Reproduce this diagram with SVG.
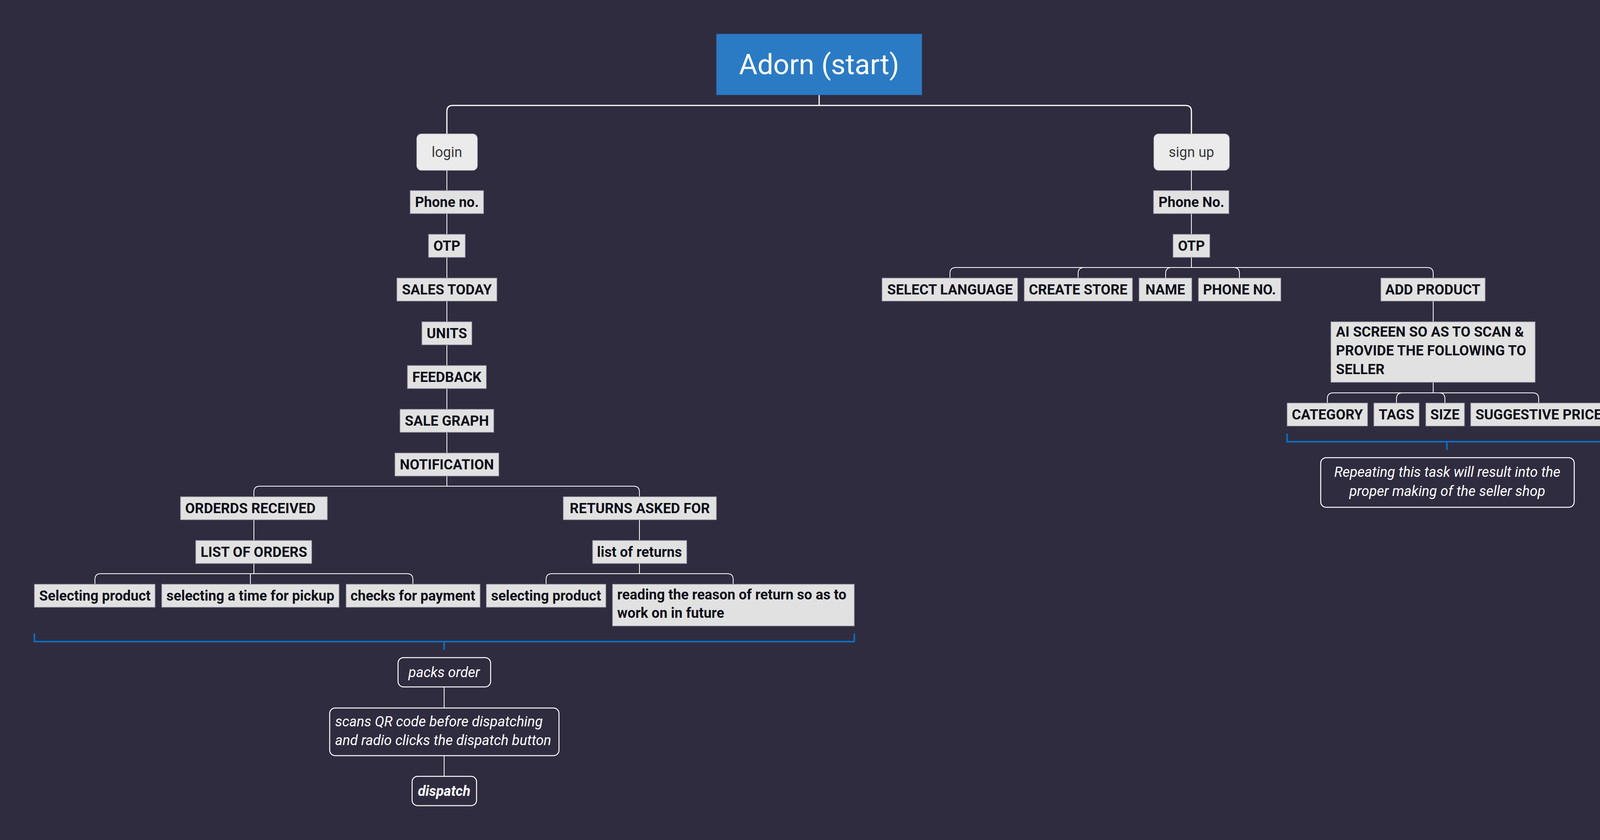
<svg xmlns="http://www.w3.org/2000/svg" width="4201" height="2151" viewBox="0 0 4201 2151">
<style>
.bg{fill:#2f2c3f}
.box{fill:#e1e1e1;stroke:#8f8da2;stroke-width:1.5}
.pill{fill:#ebebeb;stroke:#c8c8cc;stroke-width:1.5}
.out{fill:none;stroke:#ffffff;stroke-width:2.5}
.t{font-family:Roboto,'Liberation Sans',sans-serif;font-size:36px;font-weight:700;fill:#0e101a}
.c{text-anchor:middle}
.p{font-family:Roboto,'Liberation Sans',sans-serif;font-size:36px;fill:#383838;text-anchor:middle}
.i{font-family:Roboto,'Liberation Sans',sans-serif;font-size:36px;font-style:italic;fill:#ffffff}
.ln{fill:none;stroke:#ffffff;stroke-width:2}
.lt{fill:none;stroke:#ffffff;stroke-width:3}
.bl{fill:none;stroke:#0a6fc4;stroke-width:4}
</style>
<rect class="bg" x="0" y="0" width="4201" height="2151"/>
<g id="connectors">
<path class="lt" d="M2097 243 V270"/>
<path class="lt" d="M1144 343 V285 Q1144 270 1159 270 H3035 Q3050 270 3050 285 V343"/>
<path class="ln" d="M1144 436 V1160"/>
<path class="ln" d="M1144 1219 V1245"/>
<path class="ln" d="M650 1271 V1260 Q650 1245 665 1245 H1622 Q1637 1245 1637 1260 V1271"/>
<path class="ln" d="M650 1331 V1383"/>
<path class="ln" d="M650 1443 V1469"/>
<path class="ln" d="M243 1495 V1484 Q243 1469 258 1469 H1042 Q1057 1469 1057 1484 V1495"/>
<path class="ln" d="M641 1469 V1495"/>
<path class="ln" d="M1637 1331 V1383"/>
<path class="ln" d="M1637 1443 V1469"/>
<path class="ln" d="M1398 1495 V1484 Q1398 1469 1413 1469 H1862 Q1877 1469 1877 1484 V1495"/>
<path class="bl" d="M88 1622 V1643 H2187 V1622"/>
<path class="bl" d="M1137 1643 V1664"/>
<path class="ln" d="M1137 1759 V1813"/>
<path class="ln" d="M1137 1935 V1988"/>
<path class="ln" d="M3050 436 V685"/>
<path class="ln" d="M2432 712 V700 Q2432 685 2447 685 H3654 Q3669 685 3669 700 V712"/>
<path class="ln" d="M2760 712 V700 Q2760 685 2775 685"/>
<path class="ln" d="M2984 712 V700 Q2984 685 2999 685"/>
<path class="ln" d="M3173 712 V700 Q3173 685 3158 685"/>
<path class="ln" d="M3669 771 V824"/>
<path class="ln" d="M3669 979 V1006"/>
<path class="ln" d="M3398 1032 V1021 Q3398 1006 3413 1006 H3924 Q3939 1006 3939 1021 V1032"/>
<path class="ln" d="M3575 1032 V1021 Q3575 1006 3590 1006"/>
<path class="ln" d="M3699 1032 V1021 Q3699 1006 3684 1006"/>
<path class="bl" d="M3295 1110 V1131 H4114 V1110"/>
<path class="bl" d="M3704 1131 V1152"/>
</g>
<g id="title"><rect x="1834" y="87" width="526" height="156" fill="#2b7bc4" stroke="#2a5d9e" stroke-width="1"/><text x="2097" y="190" font-family="Roboto,'Liberation Sans',sans-serif" font-size="72" fill="#ffffff" text-anchor="middle">Adorn (start)</text></g>
<g id="login"><rect class="pill" x="1067" y="343" width="155" height="93" rx="12"/><text class="p" x="1144" y="402">login</text></g>
<g id="signup"><rect class="pill" x="2954" y="343" width="193" height="93" rx="12"/><text class="p" x="3050" y="402">sign up</text></g>
<g id="l-phone"><rect class="box" x="1050" y="488" width="188" height="59"/><text class="t c" x="1144" y="530">Phone no.</text></g>
<g id="l-otp"><rect class="box" x="1097" y="600" width="94" height="59"/><text class="t c" x="1144" y="642">OTP</text></g>
<g id="l-sales"><rect class="box" x="1016" y="712" width="256" height="59"/><text class="t c" x="1144" y="754">SALES TODAY</text></g>
<g id="l-units"><rect class="box" x="1080" y="824" width="128" height="59"/><text class="t c" x="1144" y="866">UNITS</text></g>
<g id="l-feedback"><rect class="box" x="1043" y="936" width="202" height="59"/><text class="t c" x="1144" y="978">FEEDBACK</text></g>
<g id="l-graph"><rect class="box" x="1024" y="1048" width="240" height="59"/><text class="t c" x="1144" y="1090">SALE GRAPH</text></g>
<g id="l-notif"><rect class="box" x="1011" y="1160" width="266" height="59"/><text class="t c" x="1144" y="1202">NOTIFICATION</text></g>
<g id="orders"><rect class="box" x="462" y="1272" width="376" height="59"/><text class="t c" x="641" y="1314">ORDERDS RECEIVED</text></g>
<g id="list-orders"><rect class="box" x="501" y="1384" width="297" height="59"/><text class="t c" x="650" y="1426">LIST OF ORDERS</text></g>
<g id="sel-product"><rect class="box" x="88" y="1496" width="309" height="59"/><text class="t c" x="243" y="1538">Selecting product</text></g>
<g id="sel-time"><rect class="box" x="414" y="1496" width="454" height="59"/><text class="t c" x="641" y="1538">selecting a time for pickup</text></g>
<g id="payment"><rect class="box" x="886" y="1496" width="343" height="59"/><text class="t c" x="1057" y="1538">checks for payment</text></g>
<g id="returns"><rect class="box" x="1442" y="1272" width="392" height="59"/><text class="t c" x="1638" y="1314">RETURNS ASKED FOR</text></g>
<g id="list-returns"><rect class="box" x="1517" y="1384" width="241" height="59"/><text class="t c" x="1637" y="1426">list of returns</text></g>
<g id="ret-product"><rect class="box" x="1245" y="1496" width="306" height="59"/><text class="t c" x="1398" y="1538">selecting product</text></g>
<g id="reason"><rect class="box" x="1568" y="1496" width="619" height="107"/><text class="t" x="1580" y="1535">reading the reason of return so as to</text><text class="t" x="1580" y="1582">work on in future</text></g>
<g id="packs"><rect class="out" x="1019" y="1684" width="237" height="75" rx="14"/><text class="i c" x="1137" y="1734">packs order</text></g>
<g id="scan"><rect class="out" x="844" y="1813" width="587" height="122" rx="14"/><text class="i" x="858" y="1860">scans QR code before dispatching</text><text class="i" x="858" y="1908">and radio clicks the dispatch button</text></g>
<g id="dispatch"><rect class="out" x="1055" y="1988" width="165" height="75" rx="14"/><text class="i c" x="1137" y="2038" font-weight="700">dispatch</text></g>
<g id="r-phone"><rect class="box" x="2953" y="488" width="193" height="59"/><text class="t c" x="3050" y="530">Phone No.</text></g>
<g id="r-otp"><rect class="box" x="3003" y="600" width="94" height="59"/><text class="t c" x="3050" y="642">OTP</text></g>
<g id="lang"><rect class="box" x="2258" y="712" width="347" height="59"/><text class="t c" x="2432" y="754">SELECT LANGUAGE</text></g>
<g id="store"><rect class="box" x="2622" y="712" width="277" height="59"/><text class="t c" x="2760" y="754">CREATE STORE</text></g>
<g id="name"><rect class="box" x="2916" y="712" width="135" height="59"/><text class="t c" x="2983" y="754">NAME</text></g>
<g id="phone2"><rect class="box" x="3068" y="712" width="211" height="59"/><text class="t c" x="3173" y="754">PHONE NO.</text></g>
<g id="add"><rect class="box" x="3535" y="712" width="267" height="59"/><text class="t c" x="3668" y="754">ADD PRODUCT</text></g>
<g id="ai"><rect class="box" x="3407" y="824" width="523" height="155"/><text class="t" x="3420" y="862">AI SCREEN SO AS TO SCAN &amp;</text><text class="t" x="3420" y="910">PROVIDE THE FOLLOWING TO</text><text class="t" x="3420" y="958">SELLER</text></g>
<g id="category"><rect class="box" x="3295" y="1032" width="206" height="59"/><text class="t c" x="3398" y="1074">CATEGORY</text></g>
<g id="tags"><rect class="box" x="3517" y="1032" width="116" height="59"/><text class="t c" x="3575" y="1074">TAGS</text></g>
<g id="size"><rect class="box" x="3650" y="1032" width="99" height="59"/><text class="t c" x="3699" y="1074">SIZE</text></g>
<g id="price"><rect class="box" x="3765" y="1032" width="348" height="59"/><text class="t c" x="3939" y="1074">SUGGESTIVE PRICE</text></g>
<g id="note"><rect class="out" x="3381" y="1172" width="649" height="127" rx="14" stroke-width="3"/><text class="i c" x="3705" y="1221">Repeating this task will result into the</text><text class="i c" x="3705" y="1270">proper making of the seller shop</text></g>
</svg>
